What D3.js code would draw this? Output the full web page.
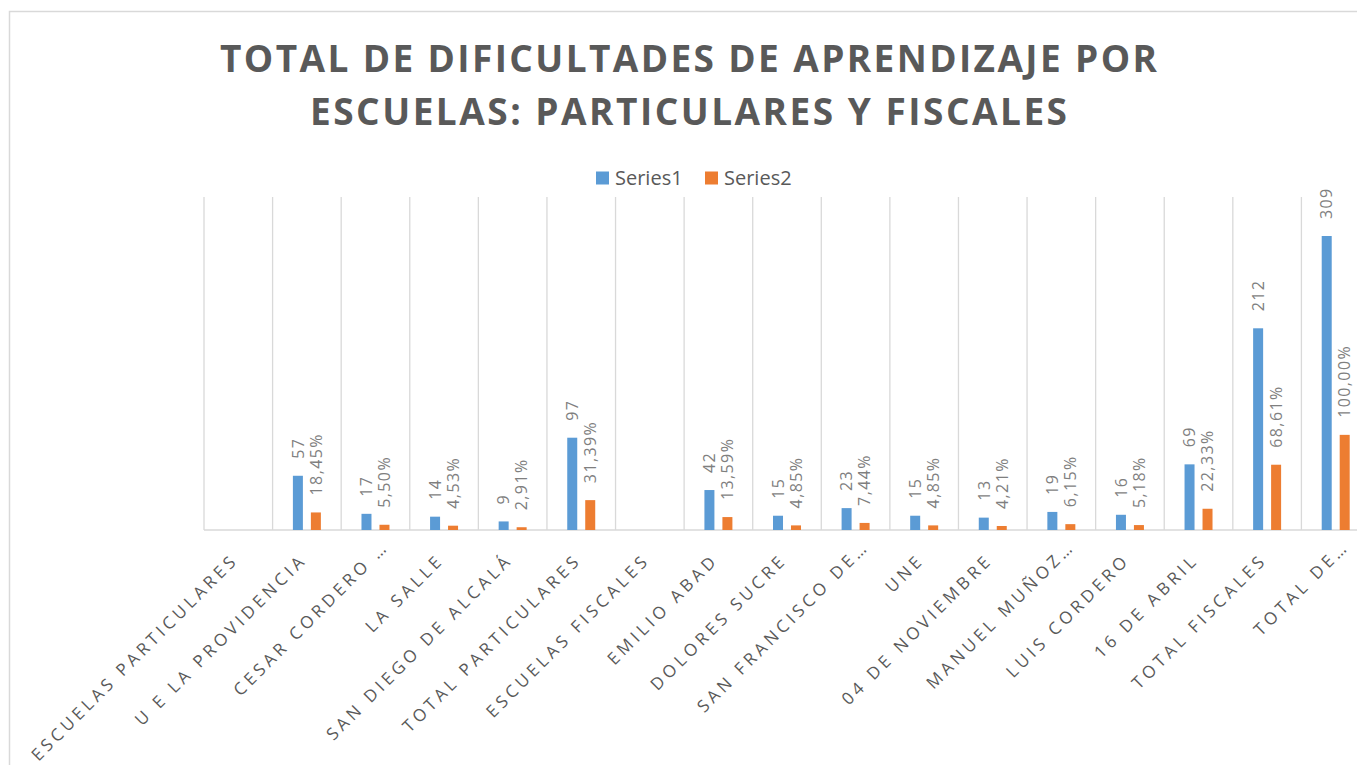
<!DOCTYPE html>
<html>
<head>
<meta charset="utf-8">
<script src="https://cdn.jsdelivr.net/npm/d3@7"></script>
<style>
  html, body { margin: 0; padding: 0; background: #fff; }
  svg { display: block; }
</style>
</head>
<body>
<svg id="chart" width="1357" height="765"></svg>
<script>
const categories = [
  "ESCUELAS PARTICULARES", "U E LA PROVIDENCIA", "CESAR CORDERO …", "LA SALLE",
  "SAN DIEGO DE ALCALÁ", "TOTAL PARTICULARES", "ESCUELAS FISCALES", "EMILIO ABAD",
  "DOLORES SUCRE", "SAN FRANCISCO DE…", "UNE", "04 DE NOVIEMBRE", "MANUEL MUÑOZ…",
  "LUIS CORDERO", "16 DE ABRIL", "TOTAL FISCALES", "TOTAL DE…"
];
const series1 = [null, 57, 17, 14, 9, 97, null, 42, 15, 23, 15, 13, 19, 16, 69, 212, 309];
const series2 = [null, 18.45, 5.50, 4.53, 2.91, 31.39, null, 13.59, 4.85, 7.44, 4.85, 4.21, 6.15, 5.18, 22.33, 68.61, 100.00];
const seriesNames = ["Series1", "Series2"];
const titleLines = ["TOTAL DE DIFICULTADES DE APRENDIZAJE POR", "ESCUELAS: PARTICULARES Y FISCALES"];

const colors = { Series1: "#5B9BD5", Series2: "#ED7D31" };
const fmt = {
  Series1: v => String(v),
  Series2: v => v.toFixed(2).replace(".", ",") + "%"
};

const svg = d3.select("#chart");
const plot = { left: 204, right: 1370, top: 197, bottom: 530 };

// chart border
svg.append("rect")
  .attr("x", 9.5).attr("y", 11.5)
  .attr("width", 1360).attr("height", 800)
  .attr("fill", "none").attr("stroke", "#d9d9d9").attr("stroke-width", 1.5);

// title
const title = svg.append("g");
const titleWidths = [937, 757];
titleLines.forEach((t, i) => {
  title.append("text")
    .attr("x", 688.5).attr("y", 72 + i * 53)
    .attr("text-anchor", "middle")
    .attr("font-family", "'Open Sans', sans-serif")
    .attr("font-weight", "bold")
    .attr("font-size", 37)
    .attr("fill", "#595959")
    .attr("textLength", titleWidths[i])
    .attr("lengthAdjust", "spacing")
    .text(t);
});

// scales
const x0 = d3.scaleBand().domain(categories)
  .range([plot.left, plot.right])
  .paddingInner(0.592).paddingOuter(0.296);
const x1 = d3.scaleBand().domain(seriesNames)
  .range([0, x0.bandwidth()])
  .paddingInner(0.444).paddingOuter(0);
const y = d3.scaleLinear().domain([0, 350]).range([plot.bottom, plot.top]);

// gridlines (category separators)
const step = x0.step();
const gap = step * x0.paddingInner() / 2;
const bounds = categories.map(c => x0(c) - gap).concat([x0(categories[categories.length - 1]) + x0.bandwidth() + gap]);
svg.append("g").selectAll("line").data(bounds).join("line")
  .attr("x1", d => d).attr("x2", d => d)
  .attr("y1", y(350)).attr("y2", y(0))
  .attr("stroke", "#d9d9d9").attr("stroke-width", 1.3);

// baseline
svg.append("line")
  .attr("x1", plot.left).attr("x2", plot.right)
  .attr("y1", y(0)).attr("y2", y(0))
  .attr("stroke", "#d9d9d9").attr("stroke-width", 1.5);

// bars
const rows = categories.map((c, i) => ({ cat: c, Series1: series1[i], Series2: series2[i] }));
const groups = svg.append("g").selectAll("g").data(rows).join("g")
  .attr("transform", d => `translate(${x0(d.cat)},0)`);

groups.selectAll("rect")
  .data(d => seriesNames.map(s => ({ s, v: d[s] })).filter(e => e.v != null))
  .join("rect")
  .attr("x", d => x1(d.s))
  .attr("width", x1.bandwidth())
  .attr("y", d => y(d.v))
  .attr("height", d => y(0) - y(d.v))
  .attr("fill", d => colors[d.s]);

// data labels
groups.selectAll("text")
  .data(d => seriesNames.map(s => ({ s, v: d[s] })).filter(e => e.v != null))
  .join("text")
  .attr("transform", d => `translate(${x1(d.s) + x1.bandwidth() / 2},${y(d.v) - 17}) rotate(-90)`)
  .attr("dy", "0.36em")
  .attr("text-anchor", "start")
  .attr("font-family", "'Open Sans', sans-serif")
  .attr("font-size", 16)
  .attr("letter-spacing", 1.4)
  .attr("fill", "#7f7f7f")
  .text(d => fmt[d.s](d.v));

// category labels
svg.append("g").selectAll("text").data(categories).join("text")
  .attr("transform", d => {
    const cx = x0(d) + x0.bandwidth() / 2;
    const shift = d.endsWith("…") ? 19 : 0;
    const ax = cx + 1 + shift * 0.707;
    const ay = 561 - shift * 0.707;
    return `translate(${ax},${ay}) rotate(-45)`;
  })
  .attr("text-anchor", "end")
  .attr("font-family", "'Open Sans', sans-serif")
  .attr("font-size", 17)
  .attr("letter-spacing", 3.9)
  .attr("fill", "#595959")
  .text(d => d);

// legend
const legend = svg.append("g");
const legendX = [596, 705];
seriesNames.forEach((s, i) => {
  legend.append("rect")
    .attr("x", legendX[i]).attr("y", 171.5)
    .attr("width", 13).attr("height", 13)
    .attr("fill", colors[s]);
  legend.append("text")
    .attr("x", legendX[i] + 19).attr("y", 185)
    .attr("font-family", "'Open Sans', sans-serif")
    .attr("font-size", 20)
    .attr("fill", "#595959")
    .text(s);
});
</script>
</body>
</html>
